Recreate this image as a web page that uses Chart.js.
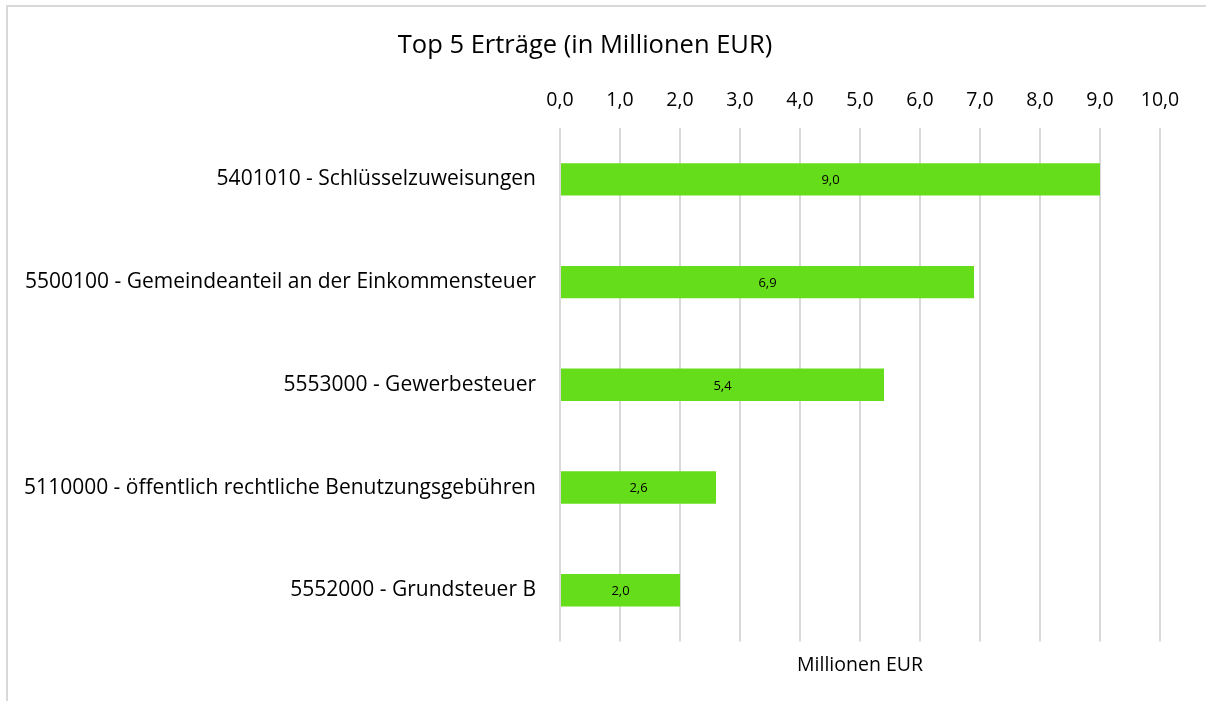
<!DOCTYPE html>
<html>
<head>
<meta charset="utf-8">
<script src="https://cdn.jsdelivr.net/npm/chart.js@4"></script>
<style>
    html, body { margin: 0; padding: 0; background: #fff; }
    #wrap { position: relative; width: 1206px; height: 701px; overflow: hidden; }
    #frame { position: absolute; left: 6px; top: 5px; width: 1400px; height: 800px; border-left: 2px solid #d9d9d9; border-top: 2px solid #d9d9d9; box-sizing: border-box; }
    canvas { position: absolute; left: 0; top: 0; }
</style>
</head>
<body>
<div id="wrap">
    <div id="frame"></div>
    <canvas id="ertraegeChart" width="1206" height="701"></canvas>
</div>
<script>
const categories = [
    '5401010 - Schlüsselzuweisungen',
    '5500100 - Gemeindeanteil an der Einkommensteuer',
    '5553000 - Gewerbesteuer',
    '5110000 - öffentlich rechtliche Benutzungsgebühren',
    '5552000 - Grundsteuer B'
];
const ertraege = [9.0, 6.9, 5.4, 2.6, 2.0];
const xTicks = [0, 1, 2, 3, 4, 5, 6, 7, 8, 9, 10];

const fmt = (v) => Number(v).toFixed(1).replace('.', ',');
const FONT = "'Open Sans', sans-serif";

const barLabels = {
    id: 'barLabels',
    afterDatasetsDraw(chart) {
        const ctx = chart.ctx;
        const meta = chart.getDatasetMeta(0);
        ctx.save();
        ctx.font = "13px " + FONT;
        ctx.fillStyle = '#000';
        ctx.textAlign = 'center';
        ctx.textBaseline = 'middle';
        meta.data.forEach((bar, i) => {
            const cx = (bar.x + bar.base) / 2;
            ctx.fillText(fmt(ertraege[i]), cx, bar.y + 1);
        });
        ctx.restore();
    }
};

const ctx = document.getElementById('ertraegeChart').getContext('2d');
window.ertraegeChart = new Chart(ctx, {
    type: 'bar',
    data: {
        labels: categories,
        datasets: [{
            label: 'Erträge',
            data: ertraege,
            backgroundColor: '#66dd1a',
            borderWidth: 0,
            barPercentage: 0.315,
            categoryPercentage: 1.0
        }]
    },
    options: {
        indexAxis: 'y',
        responsive: false,
        animation: false,
        layout: { padding: { top: 30, right: 46, bottom: 24, left: 10 } },
        plugins: {
            legend: { display: false },
            tooltip: { enabled: false },
            title: {
                display: true,
                text: 'Top 5 Erträge (in Millionen EUR)',
                color: '#000',
                font: { family: FONT, size: 25.5, weight: 'normal' },
                padding: { top: 0, bottom: 12 }
            }
        },
        scales: {
            x: {
                position: 'top',
                min: 0,
                max: 10,
                afterBuildTicks: (axis) => { axis.ticks = xTicks.map(v => ({ value: v })); },
                ticks: {
                    color: '#000',
                    font: { family: FONT, size: 19.5 },
                    padding: 16,
                    callback: (v) => fmt(v)
                },
                grid: { color: '#d9d9d9', lineWidth: 2, drawTicks: false },
                border: { display: false }
            },
            x2: {
                position: 'bottom',
                axis: 'x',
                min: 0,
                max: 10,
                ticks: { display: false },
                grid: { display: false },
                border: { display: false },
                title: {
                    display: true,
                    text: 'Millionen EUR',
                    color: '#000',
                    font: { family: FONT, size: 19.5 },
                    padding: { top: 4, bottom: 0 }
                }
            },
            y: {
                grid: { display: false, drawTicks: false },
                border: { display: false },
                ticks: {
                    color: '#000',
                    font: { family: FONT, size: 21 },
                    padding: 24
                },
                afterFit: (axis) => { axis.width = 550; }
            }
        }
    },
    plugins: [barLabels]
});
</script>
</body>
</html>
